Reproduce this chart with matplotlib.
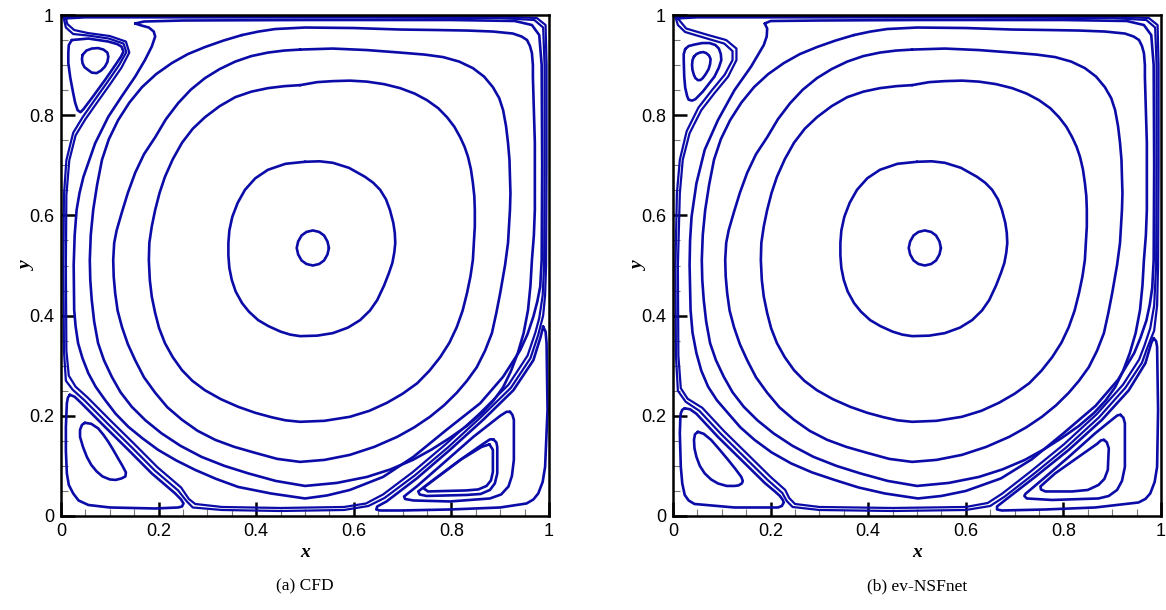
import numpy as np
import matplotlib.pyplot as plt

# streamline points (x, y)
# primary vortex, innermost to outer (same in both panels)
core = [(0.549, 0.535), (0.546, 0.548), (0.539, 0.560), (0.529, 0.567), (0.516, 0.570),
        (0.503, 0.567), (0.493, 0.560), (0.486, 0.548), (0.483, 0.535), (0.486, 0.522),
        (0.493, 0.510), (0.503, 0.503), (0.516, 0.500), (0.529, 0.503), (0.539, 0.510),
        (0.546, 0.522)]
ring2 = [(0.500, 0.707), (0.530, 0.708), (0.557, 0.705), (0.590, 0.695), (0.623, 0.677),
         (0.640, 0.665), (0.654, 0.651), (0.666, 0.632), (0.674, 0.611), (0.681, 0.585),
         (0.684, 0.565), (0.685, 0.545), (0.683, 0.526), (0.679, 0.505), (0.672, 0.485),
         (0.662, 0.460), (0.648, 0.431), (0.633, 0.410), (0.613, 0.391), (0.588, 0.376),
         (0.557, 0.365), (0.525, 0.360), (0.490, 0.359), (0.470, 0.362), (0.450, 0.368),
         (0.425, 0.379), (0.404, 0.391), (0.385, 0.408), (0.371, 0.425), (0.358, 0.448),
         (0.350, 0.471), (0.345, 0.495), (0.343, 0.520), (0.343, 0.545), (0.345, 0.570),
         (0.351, 0.597), (0.362, 0.625), (0.377, 0.651), (0.398, 0.674), (0.424, 0.691),
         (0.460, 0.703)]
ring3 = [(0.490, 0.860), (0.525, 0.866), (0.557, 0.868), (0.592, 0.869), (0.627, 0.867),
         (0.662, 0.862), (0.695, 0.854), (0.725, 0.843), (0.750, 0.830), (0.773, 0.814),
         (0.791, 0.796), (0.806, 0.777), (0.818, 0.756), (0.827, 0.737), (0.834, 0.717),
         (0.840, 0.692), (0.844, 0.665), (0.847, 0.638), (0.848, 0.611), (0.848, 0.578),
         (0.846, 0.545), (0.844, 0.511), (0.839, 0.478), (0.832, 0.445), (0.823, 0.410),
         (0.811, 0.377), (0.796, 0.346), (0.777, 0.317), (0.755, 0.290), (0.730, 0.265),
         (0.700, 0.244), (0.668, 0.226), (0.632, 0.210), (0.592, 0.198), (0.540, 0.190),
         (0.490, 0.188), (0.460, 0.191), (0.432, 0.197), (0.398, 0.206), (0.363, 0.218),
         (0.328, 0.233), (0.295, 0.251), (0.269, 0.270), (0.248, 0.291), (0.229, 0.317),
         (0.213, 0.345), (0.201, 0.375), (0.193, 0.405), (0.186, 0.438), (0.182, 0.471),
         (0.180, 0.511), (0.181, 0.545), (0.186, 0.578), (0.193, 0.611), (0.202, 0.645),
         (0.213, 0.677), (0.229, 0.712), (0.248, 0.745), (0.270, 0.773), (0.295, 0.796),
         (0.325, 0.818), (0.357, 0.836), (0.390, 0.847), (0.424, 0.854), (0.458, 0.858)]
ring4 = [(0.490, 0.931), (0.557, 0.933), (0.627, 0.930), (0.695, 0.925), (0.745, 0.921),
         (0.783, 0.916), (0.816, 0.907), (0.844, 0.894), (0.867, 0.877), (0.885, 0.856),
         (0.898, 0.834), (0.906, 0.810), (0.912, 0.778), (0.916, 0.745), (0.919, 0.711),
         (0.920, 0.677), (0.921, 0.644), (0.920, 0.611), (0.918, 0.578), (0.916, 0.545),
         (0.913, 0.523), (0.910, 0.501), (0.905, 0.473), (0.900, 0.445), (0.892, 0.405),
         (0.883, 0.365), (0.869, 0.330), (0.852, 0.297), (0.832, 0.270), (0.811, 0.246),
         (0.785, 0.221), (0.756, 0.198), (0.724, 0.177), (0.689, 0.158), (0.642, 0.138),
         (0.592, 0.122), (0.540, 0.112), (0.490, 0.108), (0.443, 0.114), (0.398, 0.126),
         (0.355, 0.138), (0.316, 0.152), (0.280, 0.170), (0.248, 0.192), (0.218, 0.217),
         (0.193, 0.246), (0.170, 0.277), (0.152, 0.311), (0.137, 0.343), (0.125, 0.377),
         (0.116, 0.410), (0.111, 0.445), (0.108, 0.478), (0.107, 0.511), (0.109, 0.545),
         (0.114, 0.570), (0.125, 0.607), (0.137, 0.645), (0.152, 0.685), (0.170, 0.722),
         (0.193, 0.756), (0.215, 0.792), (0.240, 0.824), (0.266, 0.851), (0.295, 0.874),
         (0.325, 0.892), (0.357, 0.907), (0.390, 0.918), (0.424, 0.925), (0.457, 0.929)]
ring5 = [(0.371, 0.960), (0.405, 0.967), (0.439, 0.972), (0.500, 0.975), (0.600, 0.974),
         (0.695, 0.971), (0.770, 0.970), (0.832, 0.969), (0.885, 0.967), (0.926, 0.963),
         (0.944, 0.957), (0.955, 0.950), (0.961, 0.938), (0.965, 0.924), (0.967, 0.900),
         (0.967, 0.876), (0.969, 0.810), (0.971, 0.745), (0.971, 0.680), (0.971, 0.611),
         (0.969, 0.560), (0.965, 0.511), (0.962, 0.460), (0.957, 0.411), (0.948, 0.365),
         (0.936, 0.325), (0.922, 0.289), (0.906, 0.257), (0.886, 0.230), (0.863, 0.206),
         (0.832, 0.180), (0.797, 0.156), (0.760, 0.133), (0.721, 0.112), (0.675, 0.093),
         (0.627, 0.078), (0.565, 0.066), (0.500, 0.060), (0.440, 0.070), (0.384, 0.085),
         (0.335, 0.100), (0.288, 0.118), (0.245, 0.140), (0.206, 0.165), (0.173, 0.191),
         (0.145, 0.218), (0.122, 0.247), (0.104, 0.278), (0.088, 0.311), (0.076, 0.345),
         (0.068, 0.388), (0.063, 0.431), (0.060, 0.471), (0.059, 0.511), (0.061, 0.561),
         (0.066, 0.611), (0.074, 0.661), (0.084, 0.711), (0.098, 0.752), (0.117, 0.790),
         (0.140, 0.825), (0.166, 0.856), (0.195, 0.882), (0.227, 0.904), (0.260, 0.922),
         (0.295, 0.936), (0.333, 0.949)]

# (a) CFD: outer streamlines and corner vortices
outer_a = [(0.152, 0.983), (0.17, 0.987), (0.25, 0.989), (0.5, 0.990), (0.8, 0.990),
           (0.93, 0.988), (0.965, 0.98), (0.980, 0.96), (0.985, 0.9), (0.986, 0.7),
           (0.985, 0.511), (0.982, 0.458), (0.976, 0.428), (0.968, 0.398), (0.956, 0.363),
           (0.941, 0.331), (0.906, 0.278), (0.859, 0.225), (0.790, 0.172), (0.722, 0.118),
           (0.660, 0.078), (0.592, 0.052), (0.545, 0.041), (0.500, 0.035), (0.430, 0.045),
           (0.363, 0.058), (0.318, 0.074), (0.275, 0.092), (0.236, 0.111), (0.199, 0.132),
           (0.167, 0.155), (0.138, 0.178), (0.112, 0.204), (0.090, 0.232), (0.071, 0.258),
           (0.056, 0.285), (0.044, 0.315), (0.035, 0.345), (0.030, 0.378), (0.027, 0.411),
           (0.026, 0.501), (0.028, 0.560), (0.032, 0.611), (0.038, 0.645), (0.046, 0.677),
           (0.070, 0.744), (0.097, 0.797), (0.124, 0.837), (0.152, 0.877), (0.172, 0.910),
           (0.186, 0.937), (0.193, 0.957), (0.190, 0.967), (0.180, 0.975), (0.165, 0.979)]
wall1_a = [(0.010, 0.993), (0.05, 0.995), (0.3, 0.995), (0.6, 0.995), (0.9, 0.994),
           (0.97, 0.99), (0.988, 0.975), (0.991, 0.9), (0.991, 0.7), (0.990, 0.5),
           (0.987, 0.44), (0.980, 0.395), (0.972, 0.366), (0.956, 0.320), (0.917, 0.262),
           (0.856, 0.203), (0.788, 0.143), (0.720, 0.087), (0.660, 0.043), (0.625, 0.025),
           (0.58, 0.018), (0.45, 0.016), (0.33, 0.018), (0.275, 0.024), (0.262, 0.034),
           (0.246, 0.057), (0.198, 0.097), (0.150, 0.144), (0.102, 0.190), (0.054, 0.237),
           (0.030, 0.258), (0.016, 0.28), (0.011, 0.33), (0.010, 0.5), (0.011, 0.64),
           (0.017, 0.71), (0.030, 0.76), (0.050, 0.792), (0.073, 0.824), (0.100, 0.861),
           (0.124, 0.895), (0.140, 0.925), (0.133, 0.947), (0.100, 0.958), (0.055, 0.964),
           (0.027, 0.970), (0.013, 0.982)]
wall2_a = [(0.005, 0.996), (0.05, 0.997), (0.3, 0.997), (0.6, 0.997), (0.9, 0.997),
           (0.975, 0.994), (0.993, 0.98), (0.995, 0.9), (0.995, 0.7), (0.994, 0.5),
           (0.992, 0.44), (0.988, 0.40), (0.978, 0.362), (0.962, 0.315), (0.922, 0.256),
           (0.860, 0.197), (0.793, 0.137), (0.725, 0.081), (0.663, 0.036), (0.63, 0.020),
           (0.58, 0.012), (0.45, 0.010), (0.33, 0.012), (0.27, 0.017), (0.257, 0.030),
           (0.240, 0.051), (0.192, 0.091), (0.144, 0.138), (0.096, 0.184), (0.048, 0.231),
           (0.024, 0.252), (0.010, 0.27), (0.006, 0.33), (0.005, 0.5), (0.006, 0.64),
           (0.011, 0.71), (0.025, 0.765), (0.045, 0.797), (0.068, 0.829), (0.095, 0.866),
           (0.119, 0.900), (0.134, 0.926), (0.128, 0.943), (0.098, 0.953), (0.056, 0.959),
           (0.025, 0.962), (0.010, 0.975)]
tl_a = [[(0.022, 0.950), (0.056, 0.953), (0.097, 0.947), (0.115, 0.942), (0.124, 0.937),
         (0.128, 0.927), (0.123, 0.917), (0.114, 0.904), (0.090, 0.870), (0.063, 0.834),
         (0.046, 0.812), (0.040, 0.806), (0.034, 0.810), (0.029, 0.825), (0.025, 0.844),
         (0.019, 0.875), (0.015, 0.904), (0.015, 0.925), (0.016, 0.940)],
        [(0.044, 0.920), (0.052, 0.929), (0.063, 0.933), (0.076, 0.934), (0.087, 0.931),
         (0.095, 0.925), (0.097, 0.917), (0.095, 0.906), (0.090, 0.897), (0.082, 0.889),
         (0.073, 0.884), (0.063, 0.885), (0.056, 0.890), (0.048, 0.896), (0.044, 0.904),
         (0.043, 0.912)]]
bl_a = [[(0.018, 0.242), (0.028, 0.238), (0.042, 0.225), (0.090, 0.178), (0.138, 0.132),
         (0.186, 0.085), (0.234, 0.045), (0.246, 0.033), (0.251, 0.025), (0.248, 0.019),
         (0.240, 0.017), (0.193, 0.015), (0.100, 0.017), (0.056, 0.022), (0.036, 0.031),
         (0.025, 0.045), (0.016, 0.062), (0.012, 0.085), (0.010, 0.130), (0.010, 0.178),
         (0.012, 0.225), (0.014, 0.236)],
        [(0.049, 0.186), (0.062, 0.184), (0.076, 0.175), (0.087, 0.162), (0.097, 0.148),
         (0.107, 0.132), (0.117, 0.115), (0.126, 0.100), (0.133, 0.087), (0.132, 0.079),
         (0.124, 0.075), (0.112, 0.072), (0.100, 0.073), (0.085, 0.079), (0.073, 0.089),
         (0.062, 0.102), (0.053, 0.118), (0.045, 0.138), (0.039, 0.158), (0.039, 0.172),
         (0.043, 0.182)]]
br_a = [[(0.988, 0.378), (0.993, 0.368), (0.995, 0.345), (0.997, 0.212), (0.992, 0.098),
         (0.987, 0.068), (0.978, 0.045), (0.968, 0.033), (0.954, 0.025), (0.900, 0.017),
         (0.797, 0.013), (0.695, 0.011), (0.654, 0.011), (0.646, 0.013), (0.648, 0.019),
         (0.667, 0.029), (0.729, 0.075), (0.797, 0.132), (0.865, 0.192), (0.927, 0.251),
         (0.968, 0.311), (0.983, 0.358)],
        [(0.920, 0.208), (0.925, 0.202), (0.928, 0.192), (0.928, 0.112), (0.924, 0.080),
         (0.917, 0.059), (0.902, 0.043), (0.879, 0.035), (0.797, 0.029), (0.722, 0.031),
         (0.705, 0.034), (0.703, 0.039), (0.729, 0.059), (0.783, 0.105), (0.845, 0.158),
         (0.900, 0.200), (0.913, 0.208)],
        [(0.886, 0.153), (0.892, 0.147), (0.894, 0.138), (0.894, 0.085), (0.889, 0.065),
         (0.879, 0.052), (0.860, 0.044), (0.831, 0.042), (0.749, 0.040), (0.735, 0.043),
         (0.732, 0.049), (0.763, 0.072), (0.818, 0.112), (0.865, 0.144), (0.879, 0.153)],
        [(0.878, 0.143), (0.885, 0.132), (0.885, 0.088), (0.881, 0.071), (0.872, 0.060),
         (0.855, 0.053), (0.830, 0.051), (0.752, 0.049), (0.742, 0.056), (0.768, 0.075),
         (0.820, 0.113), (0.862, 0.138)]]

# (b) ev-NSFnet: outer streamlines and corner vortices
outer_b = [(0.188, 0.983), (0.2, 0.988), (0.3, 0.989), (0.5, 0.990), (0.8, 0.990),
           (0.93, 0.988), (0.965, 0.98), (0.980, 0.96), (0.985, 0.9), (0.986, 0.7),
           (0.985, 0.511), (0.982, 0.455), (0.977, 0.422), (0.970, 0.39), (0.958, 0.356),
           (0.945, 0.325), (0.912, 0.272), (0.866, 0.220), (0.800, 0.165), (0.735, 0.113),
           (0.672, 0.075), (0.600, 0.050), (0.550, 0.040), (0.502, 0.035), (0.434, 0.045),
           (0.380, 0.057), (0.331, 0.072), (0.285, 0.087), (0.242, 0.105), (0.202, 0.127),
           (0.167, 0.152), (0.138, 0.177), (0.113, 0.205), (0.090, 0.231), (0.072, 0.258),
           (0.058, 0.290), (0.048, 0.325), (0.040, 0.366), (0.036, 0.411), (0.034, 0.501),
           (0.035, 0.550), (0.038, 0.597), (0.048, 0.664), (0.065, 0.731), (0.092, 0.790),
           (0.126, 0.850), (0.160, 0.897), (0.186, 0.940), (0.192, 0.957), (0.193, 0.973)]
wall1_b = [(0.010, 0.993), (0.05, 0.995), (0.3, 0.995), (0.6, 0.995), (0.9, 0.994),
           (0.97, 0.99), (0.988, 0.975), (0.991, 0.9), (0.991, 0.7), (0.990, 0.5),
           (0.986, 0.42), (0.978, 0.375), (0.966, 0.34), (0.955, 0.312), (0.922, 0.262),
           (0.868, 0.203), (0.801, 0.143), (0.733, 0.089), (0.675, 0.045), (0.645, 0.026),
           (0.6, 0.018), (0.45, 0.016), (0.30, 0.018), (0.25, 0.024), (0.238, 0.036),
           (0.230, 0.052), (0.200, 0.078), (0.152, 0.124), (0.104, 0.170), (0.060, 0.216),
           (0.030, 0.234), (0.016, 0.255), (0.011, 0.32), (0.010, 0.5), (0.014, 0.644),
           (0.020, 0.711), (0.034, 0.764), (0.058, 0.810), (0.085, 0.844), (0.113, 0.877),
           (0.130, 0.910), (0.130, 0.933), (0.109, 0.950), (0.072, 0.960), (0.027, 0.973)]
wall2_b = [(0.005, 0.996), (0.05, 0.997), (0.3, 0.997), (0.6, 0.997), (0.9, 0.997),
           (0.975, 0.994), (0.993, 0.98), (0.995, 0.9), (0.995, 0.7), (0.994, 0.5),
           (0.992, 0.42), (0.986, 0.37), (0.972, 0.336), (0.961, 0.306), (0.927, 0.256),
           (0.873, 0.197), (0.806, 0.137), (0.738, 0.083), (0.680, 0.039), (0.65, 0.020),
           (0.6, 0.012), (0.45, 0.010), (0.30, 0.012), (0.245, 0.018), (0.233, 0.030),
           (0.224, 0.046), (0.194, 0.072), (0.146, 0.118), (0.098, 0.164), (0.054, 0.210),
           (0.026, 0.228), (0.010, 0.25), (0.006, 0.32), (0.005, 0.5), (0.008, 0.644),
           (0.014, 0.711), (0.028, 0.768), (0.052, 0.815), (0.079, 0.849), (0.106, 0.881),
           (0.122, 0.910), (0.122, 0.928), (0.105, 0.943), (0.070, 0.953), (0.025, 0.966),
           (0.010, 0.980)]
tl_b = [[(0.025, 0.932), (0.032, 0.938), (0.044, 0.941), (0.060, 0.944), (0.075, 0.944),
         (0.087, 0.940), (0.094, 0.933), (0.098, 0.922), (0.099, 0.910), (0.094, 0.895),
         (0.085, 0.877), (0.061, 0.847), (0.046, 0.832), (0.039, 0.829), (0.032, 0.831),
         (0.029, 0.838), (0.025, 0.855), (0.023, 0.877), (0.022, 0.910), (0.022, 0.922)],
        [(0.043, 0.917), (0.048, 0.922), (0.055, 0.925), (0.062, 0.926), (0.068, 0.924),
         (0.074, 0.919), (0.077, 0.912), (0.076, 0.902), (0.073, 0.892), (0.067, 0.882),
         (0.061, 0.874), (0.056, 0.870), (0.051, 0.870), (0.046, 0.874), (0.043, 0.880),
         (0.040, 0.890), (0.039, 0.900), (0.040, 0.910)]]
bl_b = [[(0.024, 0.215), (0.035, 0.213), (0.048, 0.204), (0.092, 0.158), (0.140, 0.112),
         (0.188, 0.066), (0.210, 0.048), (0.219, 0.040), (0.225, 0.032), (0.227, 0.027),
         (0.223, 0.020), (0.215, 0.017), (0.126, 0.017), (0.044, 0.024), (0.032, 0.031),
         (0.024, 0.042), (0.019, 0.065), (0.016, 0.098), (0.014, 0.165), (0.015, 0.195),
         (0.016, 0.205), (0.019, 0.212)],
        [(0.051, 0.168), (0.063, 0.164), (0.078, 0.152), (0.095, 0.133), (0.113, 0.112),
         (0.127, 0.095), (0.140, 0.078), (0.143, 0.070), (0.141, 0.065), (0.134, 0.061),
         (0.126, 0.060), (0.110, 0.060), (0.092, 0.065), (0.078, 0.073), (0.065, 0.085),
         (0.055, 0.100), (0.048, 0.118), (0.044, 0.135), (0.043, 0.152), (0.045, 0.163)]]
br_b = [[(0.985, 0.355), (0.990, 0.349), (0.992, 0.338), (0.994, 0.212), (0.992, 0.098),
         (0.987, 0.068), (0.978, 0.045), (0.968, 0.034), (0.954, 0.027), (0.865, 0.017),
         (0.763, 0.013), (0.674, 0.011), (0.664, 0.013), (0.664, 0.019), (0.681, 0.032),
         (0.742, 0.078), (0.811, 0.132), (0.879, 0.192), (0.934, 0.251), (0.968, 0.305),
         (0.980, 0.345)],
        [(0.917, 0.202), (0.923, 0.196), (0.926, 0.185), (0.926, 0.098), (0.920, 0.070),
         (0.910, 0.052), (0.893, 0.040), (0.872, 0.035), (0.777, 0.032), (0.725, 0.035),
         (0.720, 0.040), (0.722, 0.044), (0.756, 0.072), (0.811, 0.118), (0.865, 0.165),
         (0.903, 0.195), (0.911, 0.201)],
        [(0.883, 0.152), (0.889, 0.147), (0.893, 0.135), (0.891, 0.092), (0.884, 0.074),
         (0.872, 0.062), (0.850, 0.052), (0.818, 0.049), (0.763, 0.049), (0.754, 0.053),
         (0.753, 0.059), (0.783, 0.085), (0.831, 0.118), (0.869, 0.144), (0.877, 0.151)]]

ticks = [0, 0.2, 0.4, 0.6, 0.8, 1]
tick_labels = ['0', '0.2', '0.4', '0.6', '0.8', '1']
captions = ['(a) CFD', '(b) ev-NSFnet']

line_color = '#0b0ba8'


def draw_loop(ax, pts, lw=1.9):
    """Draw one closed streamline"""
    xy = np.array(pts + [pts[0]])
    ax.plot(xy[:, 0], xy[:, 1], color=line_color, lw=lw,
            solid_joinstyle='round', solid_capstyle='round')


def setup_axes(ax, caption):
    ax.set_xlim(0, 1)
    ax.set_ylim(0, 1)
    ax.set_xticks(ticks)
    ax.set_yticks(ticks)
    ax.set_xticklabels(tick_labels)
    ax.set_yticklabels(tick_labels)
    ax.set_xticks(np.arange(0.05, 1, 0.05), minor=True)
    ax.set_yticks(np.arange(0.05, 1, 0.05), minor=True)
    ax.tick_params(which='major', direction='in', length=10, width=1.8,
                   labelsize=13, pad=5, top=False, right=False)
    ax.tick_params(which='minor', direction='in', length=5, width=0.8,
                   color='#777777', top=False, right=False)
    for lab in ax.get_xticklabels() + ax.get_yticklabels():
        lab.set_fontfamily('Liberation Sans')
    for s in ax.spines.values():
        s.set_linewidth(1.8)
    ax.set_xlabel('x', fontfamily='Liberation Serif', fontstyle='italic',
                  fontweight='bold', fontsize=14)
    ax.set_ylabel('y', fontfamily='Liberation Serif', fontstyle='italic',
                  fontweight='bold', fontsize=14)
    ax.xaxis.set_label_coords(0.5, -0.056)
    ax.yaxis.set_label_coords(-0.052, 0.5)
    ax.text(0.5, -0.14, caption, transform=ax.transAxes, ha='center', va='center',
            fontfamily='Liberation Serif', fontsize=12.5)


fig = plt.figure(figsize=(11.66, 6.10), dpi=100)
ax_a = fig.add_axes([61 / 1166, 1 - 516 / 610, 488 / 1166, 501 / 610])
ax_b = fig.add_axes([673 / 1166, 1 - 516 / 610, 488 / 1166, 501 / 610])

panels = [
    (ax_a, outer_a, wall1_a, wall2_a, tl_a, bl_a, br_a),
    (ax_b, outer_b, wall1_b, wall2_b, tl_b, bl_b, br_b),
]

for (ax, outer, wall1, wall2, tl, bl, br), caption in zip(panels, captions):
    for ring in [core, ring2, ring3, ring4, ring5]:
        draw_loop(ax, ring)
    draw_loop(ax, outer)
    draw_loop(ax, wall1, lw=1.6)
    draw_loop(ax, wall2, lw=1.6)
    for loop in tl + bl + br:
        draw_loop(ax, loop)
    setup_axes(ax, caption)

fig.savefig('out.png', dpi=100)
